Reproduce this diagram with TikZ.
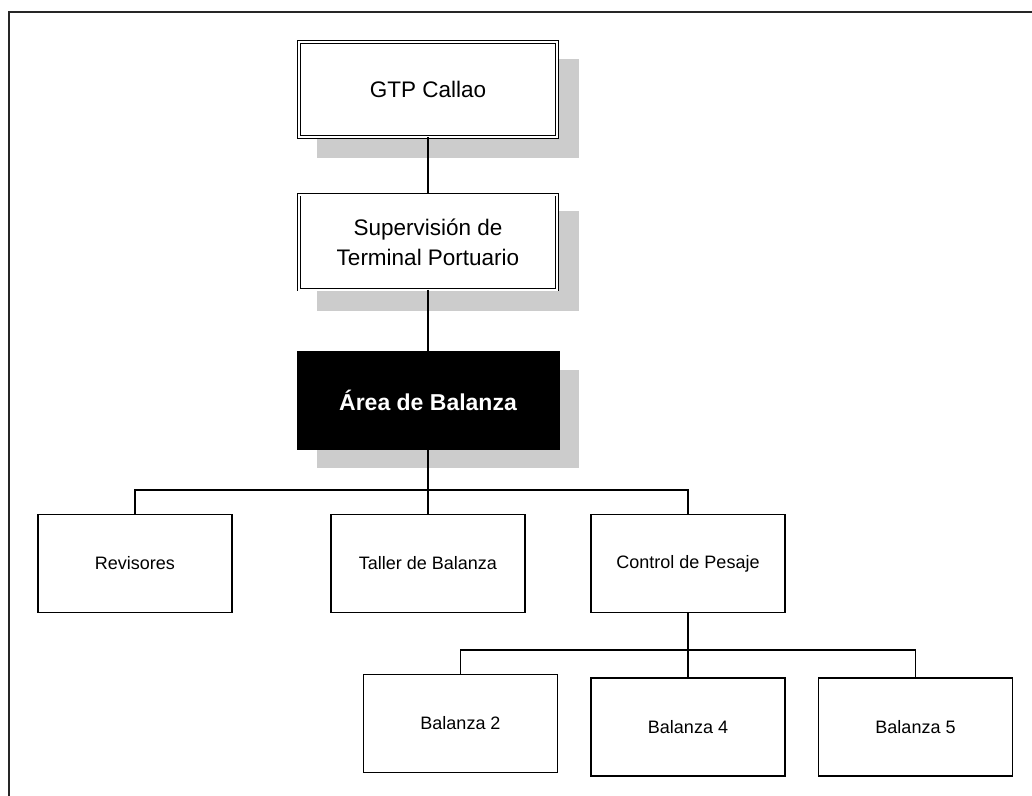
\documentclass[tikz,border=0pt]{standalone}
\usepackage{fontspec}
\setmainfont{Liberation Sans}
\usetikzlibrary{backgrounds}
\definecolor{shadowgray}{HTML}{CCCCCC}
\begin{document}
\begin{tikzpicture}[x=1pt,y=-1pt,
  topbox/.style={draw, double, double distance=2pt, line width=0.9pt, fill=white,
    minimum width=258pt, minimum height=95pt, inner sep=0pt, align=center,
    font=\fontsize{22.5}{30}\selectfont},
  headbox/.style={draw, line width=0.9pt, fill=black, text=white,
    minimum width=262pt, minimum height=98pt, inner sep=0pt,
    font=\fontsize{23}{27}\selectfont\bfseries},
  unitbox/.style={draw, line width=1.1pt, fill=white,
    minimum width=194pt, minimum height=98pt, inner sep=0pt,
    font=\fontsize{18}{22}\selectfont},
  link/.style={line width=1.2pt},
  frameline/.style={line width=1.6pt, draw=black!85}
]
\useasboundingbox (0,0) rectangle (1032,795);

% page frame
\draw[frameline] (9,800) -- (9,12) -- (1040,12);

% upper levels
\node[topbox] (gtp) at (428,89.5) {GTP Callao};
\node[topbox] (sup) at (428,242) {Supervisión de\\Terminal Portuario};
\node[headbox] (area) at (428,400) {Área de Balanza};

% units under the head
\node[unitbox] (rev) at (135,563.5) {Revisores};
\node[unitbox] (tal) at (428,563.5) {Taller de Balanza};
\node[unitbox] (ctl) at (688,563.5) {Control de Pesaje};

% scales under Control de Pesaje
\node[unitbox] (b2) at (460.5,723.5) {Balanza 2};
\node[unitbox] (b4) at (688,727) {Balanza 4};
\node[unitbox] (b5) at (915.5,727) {Balanza 5};

% drop shadows
\begin{scope}[on background layer]
  \foreach \n in {gtp,sup} {
    \fill[shadowgray] ([shift={(18.1,17.1)}]\n.north west) rectangle ([shift={(21.9,20.9)}]\n.south east);
  }
  \fill[shadowgray] ([shift={(20,19)}]area.north west) rectangle ([shift={(20,19)}]area.south east);
\end{scope}

% connectors
\coordinate (bus1) at (428,490);
\coordinate (bus2) at (688,650);
\draw[link] (gtp.south) -- (sup.north);
\draw[link] (sup.south) -- (area.north);
\draw[link] (area.south) -- (tal.north);
\draw[link] (rev.north) |- (bus1) -| (ctl.north);
\draw[link] (ctl.south) -- (b4.north);
\draw[link] (b2.north) |- (bus2) -| (b5.north);
\end{tikzpicture}
\end{document}
